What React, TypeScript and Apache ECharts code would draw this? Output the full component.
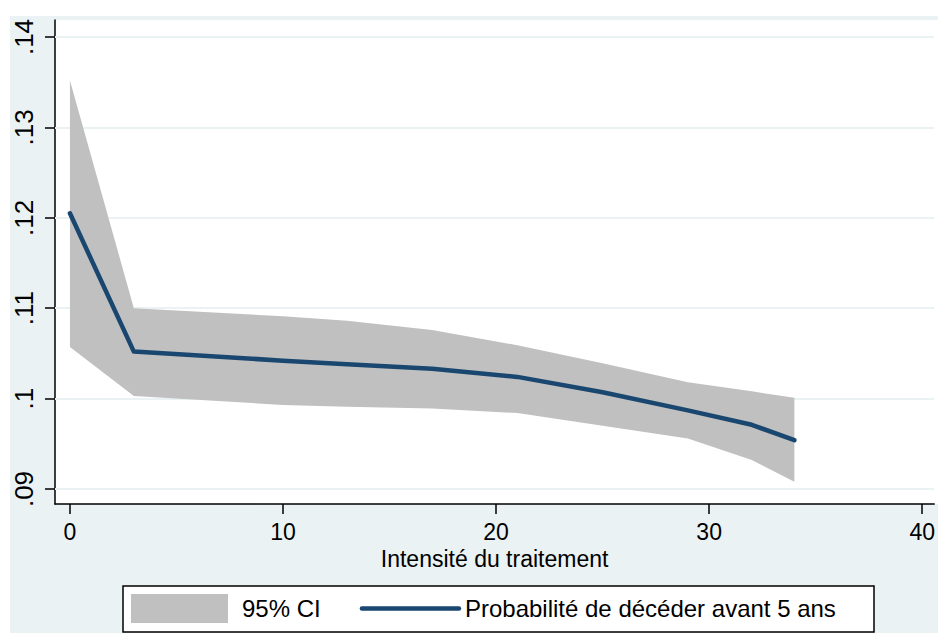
import React, { useEffect, useRef } from "react";
import * as echarts from "echarts";

// Treatment intensity at which the predicted probability is evaluated
const xValues = [0, 3, 10, 13, 17, 21, 25, 29, 32, 34];
// Predicted probability of dying before age 5
const probValues = [0.1205, 0.1052, 0.1042, 0.1038, 0.1033, 0.1024, 0.1007, 0.0987, 0.0971, 0.0954];
// 95% confidence interval bounds
const ciUpper = [0.1352, 0.11, 0.1091, 0.1086, 0.1076, 0.1059, 0.1039, 0.1018, 0.1008, 0.1001];
const ciLower = [0.1057, 0.1003, 0.0993, 0.0991, 0.0989, 0.0984, 0.097, 0.0956, 0.0932, 0.0908];

const xTicks = [0, 10, 20, 30, 40];
const yTicks = [0.09, 0.1, 0.11, 0.12, 0.13, 0.14];

const xTitle = "Intensité du traitement";
const ciName = "95% CI";
const lineName = "Probabilité de décéder avant 5 ans";

const FONT = "'Liberation Sans', Arial, sans-serif";
const NAVY = "#1a476f";
const BAND = "#c0c0c0";
const PANEL = "#eaf2f3";

// Stata-style labels: ".14", ".1", ".09"
const fmtY = (v: number) => (Math.round(v * 100) / 100).toString().replace(/^0\./, ".");

export default function App() {
  const ref = useRef<HTMLDivElement>(null);

  useEffect(() => {
    document.body.style.margin = "0";
    if (!ref.current) return;
    const chart = echarts.init(ref.current, undefined, { renderer: "svg" });

    const bandData = xValues.map((x, i) => [x, ciLower[i], ciUpper[i]]);
    const lineData = xValues.map((x, i) => [x, probValues[i]]);

    chart.setOption({
      animation: false,
      backgroundColor: "transparent",
      textStyle: { fontFamily: FONT },
      grid: { left: 55, top: 20, right: 0, height: 484, show: false },
      xAxis: {
        type: "value",
        min: -0.7009,
        max: 40.561,
        name: xTitle,
        nameLocation: "middle",
        nameGap: 42,
        nameTextStyle: { fontSize: 23, color: "#000", fontFamily: FONT },
        axisLine: { show: true, onZero: false, lineStyle: { color: "#000", width: 1.5 } },
        axisTick: { show: true, length: 10, customValues: xTicks, lineStyle: { color: "#000", width: 1.5 } },
        axisLabel: { customValues: xTicks, fontSize: 23, color: "#000", margin: 16, fontFamily: FONT },
        splitLine: { show: false },
      },
      yAxis: {
        type: "value",
        min: 0.088341,
        max: 0.141881,
        axisLine: { show: true, onZero: false, lineStyle: { color: "#000", width: 1.5 } },
        axisTick: { show: true, length: 10, customValues: yTicks, lineStyle: { color: "#000", width: 1.5 } },
        axisLabel: {
          customValues: yTicks,
          rotate: 90,
          fontSize: 26,
          color: "#000",
          margin: 18,
          fontFamily: FONT,
          formatter: (v: number) => fmtY(v),
        },
        splitLine: { show: false },
      },
      legend: {
        left: 131,
        top: 594,
        padding: 0,
        itemWidth: 97,
        itemHeight: 29,
        itemGap: 39,
        textStyle: { fontSize: 24, color: "#000", fontFamily: FONT, padding: [0, 0, 0, 9] },
        data: [
          { name: ciName, icon: "rect", itemStyle: { color: BAND, borderWidth: 0 } },
          {
            name: lineName,
            itemStyle: { color: "rgba(0,0,0,0)", borderWidth: 0 },
            lineStyle: { color: NAVY, width: 4.5 },
            textStyle: { padding: [0, 0, 0, 1] },
          },
        ],
      },
      graphic: [
        {
          type: "rect",
          z: 0,
          shape: { x: 123, y: 586, width: 751, height: 46 },
          style: { fill: "#ffffff", stroke: "#000", lineWidth: 1.5 },
          silent: true,
        },
      ],
      series: [
        {
          // horizontal grid lines, kept underneath the band
          name: "grille",
          type: "line",
          data: [],
          z: 1,
          silent: true,
          markLine: {
            z: 1,
            silent: true,
            symbol: "none",
            label: { show: false },
            lineStyle: { color: PANEL, width: 2, type: "solid" },
            data: yTicks.map((v) => ({ yAxis: v })),
          },
        },
        {
          name: ciName,
          type: "custom",
          data: bandData,
          encode: { x: 0, y: [1, 2] },
          itemStyle: { color: BAND },
          z: 3,
          silent: true,
          renderItem: (params: any, api: any) => {
            if (params.dataIndexInside !== 0) return null;
            const n = params.dataInsideLength;
            const top: number[][] = [];
            const bottom: number[][] = [];
            for (let i = 0; i < n; i++) {
              const x = api.value(0, i);
              bottom.push(api.coord([x, api.value(1, i)]));
              top.push(api.coord([x, api.value(2, i)]));
            }
            return {
              type: "polygon",
              shape: { points: top.concat(bottom.reverse()) },
              style: { fill: BAND },
            };
          },
        },
        {
          name: lineName,
          type: "line",
          data: lineData,
          symbol: "none",
          color: NAVY,
          lineStyle: { color: NAVY, width: 4.5, cap: "round", join: "round" },
          z: 4,
          silent: true,
        },
      ],
    });

    return () => chart.dispose();
  }, []);

  return (
    <div style={{ position: "relative", width: 938, height: 633, background: "#fff", overflow: "hidden" }}>
      <div style={{ position: "absolute", left: 10, top: 16, right: 0, bottom: 0, background: PANEL }} />
      <div style={{ position: "absolute", left: 55, top: 20, right: 0, height: 484, background: "#fff" }} />
      <div ref={ref} style={{ position: "absolute", left: 0, top: 0, width: 938, height: 633 }} />
    </div>
  );
}
